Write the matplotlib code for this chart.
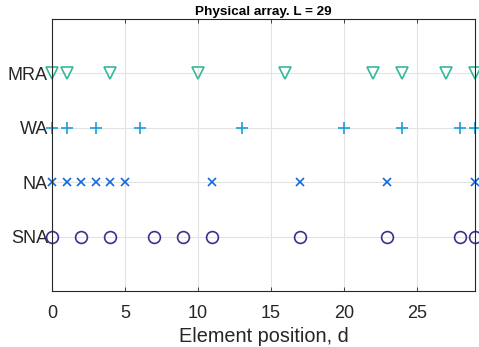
import matplotlib.pyplot as plt

# array geometries, element positions (L = 29)
mra = [0, 1, 4, 10, 16, 22, 24, 27, 29]
wa = [0, 1, 3, 6, 13, 20, 24, 28, 29]
na = [0, 1, 2, 3, 4, 5, 11, 17, 23, 29]
sna = [0, 2, 4, 7, 9, 11, 17, 23, 28, 29]
names = ["SNA", "NA", "WA", "MRA"]
aperture = 29

plt.rcParams["font.family"] = ["Liberation Sans", "DejaVu Sans"]

fig = plt.figure(figsize=(4.79, 3.47), dpi=100)
ax = fig.add_axes([0.1086, 0.1614, 0.883, 0.7838])

ax.plot(sna, [1] * len(sna), "o", ms=8.5, mfc="none", mec="#3f2f8e", mew=1.2, clip_on=False)
ax.plot(na, [2] * len(na), "x", ms=5.5, mec="#1169e0", mew=1.2, clip_on=False)
ax.plot(wa, [3] * len(wa), "+", ms=9, mec="#1a9fd6", mew=1.2, clip_on=False)
ax.plot(mra, [4] * len(mra), "v", ms=9, mfc="none", mec="#35b89a", mew=1.2, clip_on=False)

ax.set_xlim(0, aperture)
ax.set_ylim(0, 5)
ax.set_xticks([0, 5, 10, 15, 20, 25])
ax.set_yticks([1, 2, 3, 4])
ax.set_yticklabels(names)
ax.grid(True, color="#e3e3e3", lw=0.8)
ax.set_axisbelow(True)
ax.tick_params(direction="in", top=True, right=True, length=3, width=0.6,
               labelsize=13, colors="#262626", pad=10)
ax.tick_params(axis="y", length=0, pad=3)
for s in ax.spines.values():
    s.set_color("#262626")
    s.set_linewidth(0.8)

ax.set_xlabel("Element position, d", fontsize=14.3, color="#262626", labelpad=4)
ax.set_title(f"Physical array. L = {aperture}", fontsize=9.7, fontweight="bold", pad=3)

fig.savefig("out.png", dpi=100)
